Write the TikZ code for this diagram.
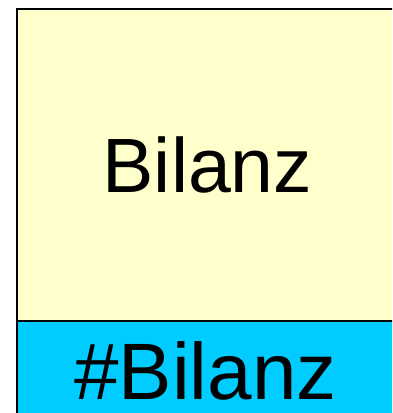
\documentclass[tikz,border=0pt]{standalone}
\usepackage{fontspec}
\setmainfont{Liberation Sans}
\definecolor{boxyellow}{HTML}{FFFFCC}
\definecolor{boxblue}{HTML}{00CCFF}
\tikzset{
  lbl/.style={anchor=base, inner sep=0pt},
  frame/.style={draw=black, line width=1.5pt}
}
\begin{document}
\begin{tikzpicture}[x=1pt,y=1pt]
\useasboundingbox (0,0) rectangle (392,413);
\clip (0,0) rectangle (392,413);
\fill[boxyellow] (17,92) rectangle (400,404);
\fill[boxblue] (17,-10) rectangle (400,92);
\draw[frame] (400,404) -- (17,404) -- (17,-10);
\draw[frame] (17,92) -- (400,92);
\node[lbl, font=\fontsize{77}{85}\selectfont] (title) at (207.5,220) {Bilanz};
\node[lbl, font=\fontsize{80}{88}\selectfont] (tag) at (205.5,13) {\#Bilanz};
\end{tikzpicture}
\end{document}
